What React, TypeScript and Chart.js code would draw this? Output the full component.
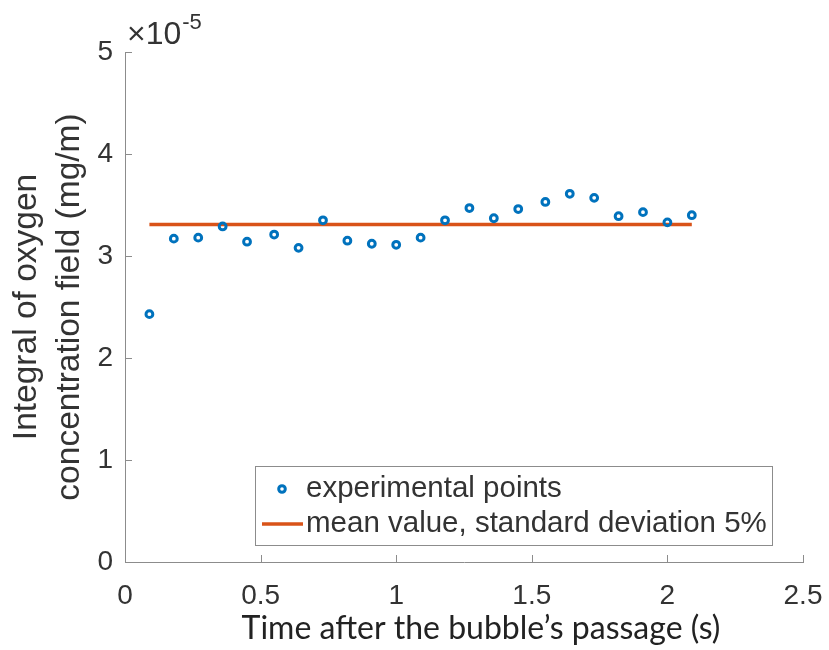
import React, { useEffect, useRef } from 'react';
import { Chart, registerables } from 'chart.js';

Chart.register(...registerables);

// ---- data (integral values in units of 1e-5 mg/m) ----
const TIME_S = [0.09, 0.18, 0.27, 0.36, 0.45, 0.55, 0.64, 0.73, 0.82, 0.91, 1.0, 1.09, 1.18, 1.27, 1.36, 1.45, 1.55, 1.64, 1.73, 1.82, 1.91, 2.0, 2.09];
const INTEGRAL_E5 = [2.43, 3.17, 3.18, 3.29, 3.14, 3.21, 3.08, 3.35, 3.15, 3.12, 3.11, 3.18, 3.35, 3.47, 3.37, 3.46, 3.53, 3.61, 3.57, 3.39, 3.43, 3.33, 3.40];
const MEAN_E5 = 3.31;
const X_TICKS = [0, 0.5, 1, 1.5, 2, 2.5];
const Y_TICKS = [0, 1, 2, 3, 4, 5];
const Y_EXPONENT = '-5';
const SERIES_LABELS = ['experimental points', 'mean value, standard deviation 5%'];
const X_TITLE = 'Time after the bubble\u2019s passage (s)';
const Y_TITLE = ['Integral of oxygen', 'concentration field (mg/m)'];

const BLUE = '#0072BD';
const ORANGE = '#D95319';
const AXIS = '#8c8c8c';
const TEXT = '#333333';
const SANS = '"Liberation Sans", Arial, Helvetica, sans-serif';

const inwardTicks = {
  id: 'inwardTicks',
  afterDraw(chart: any) {
    const { ctx, chartArea } = chart;
    const xs = chart.scales.x;
    const ys = chart.scales.y;
    ctx.save();
    ctx.strokeStyle = AXIS;
    ctx.lineWidth = 1;
    X_TICKS.forEach((v) => {
      if (v === 0) return;
      const px = Math.round(xs.getPixelForValue(v)) + 0.5;
      ctx.beginPath();
      ctx.moveTo(px, chartArea.bottom);
      ctx.lineTo(px, chartArea.bottom - 7);
      ctx.stroke();
    });
    Y_TICKS.forEach((v) => {
      if (v === 0) return;
      const py = Math.round(ys.getPixelForValue(v)) + 0.5;
      ctx.beginPath();
      ctx.moveTo(chartArea.left, py);
      ctx.lineTo(chartArea.left + 7, py);
      ctx.stroke();
    });
    ctx.restore();
  },
};

const exponentLabel = {
  id: 'exponentLabel',
  afterDraw(chart: any) {
    const { ctx, chartArea } = chart;
    ctx.save();
    ctx.fillStyle = TEXT;
    ctx.textBaseline = 'alphabetic';
    ctx.textAlign = 'left';
    ctx.font = `32px ${SANS}`;
    const x0 = chartArea.left + 2;
    const base = 44;
    ctx.fillText('\u00D710', x0, base);
    const w = ctx.measureText('\u00D710').width;
    ctx.font = `22px ${SANS}`;
    ctx.fillText(Y_EXPONENT, x0 + w + 1, base - 15);
    ctx.restore();
  },
};

const xTitle = {
  id: 'xTitle',
  afterDraw(chart: any) {
    const { ctx, chartArea } = chart;
    ctx.save();
    ctx.fillStyle = '#222222';
    ctx.font = '32px Lato, "Open Sans", sans-serif';
    ctx.textAlign = 'center';
    ctx.textBaseline = 'alphabetic';
    ctx.fillText(X_TITLE, (chartArea.left + chartArea.right) / 2 + 17, 639);
    ctx.restore();
  },
};

const boxLegend = {
  id: 'boxLegend',
  afterDraw(chart: any) {
    const { ctx } = chart;
    const left = 255, top = 466, right = 772, bottom = 545;
    ctx.save();
    ctx.fillStyle = '#ffffff';
    ctx.fillRect(left, top, right - left, bottom - top);
    ctx.strokeStyle = '#8c8c8c';
    ctx.lineWidth = 1;
    ctx.strokeRect(left + 0.5, top + 0.5, right - left, bottom - top);
    const ds = chart.data.datasets;
    const rows = [489, 524];
    ctx.font = `29.5px ${SANS}`;
    ctx.fillStyle = TEXT;
    ctx.textBaseline = 'middle';
    ctx.textAlign = 'left';
    ctx.beginPath();
    ctx.strokeStyle = ds[0].borderColor;
    ctx.lineWidth = 3;
    ctx.arc(282, rows[0], 3.3, 0, Math.PI * 2);
    ctx.stroke();
    ctx.fillText(ds[0].label, 306, rows[0]);
    ctx.beginPath();
    ctx.strokeStyle = ds[1].borderColor;
    ctx.lineWidth = 3.5;
    ctx.moveTo(262, rows[1]);
    ctx.lineTo(303, rows[1]);
    ctx.stroke();
    ctx.fillText(ds[1].label, 306, rows[1]);
    ctx.restore();
  },
};

export default function App() {
  const ref = useRef<HTMLCanvasElement | null>(null);

  useEffect(() => {
    if (!ref.current) return;
    const points = TIME_S.map((t, i) => ({ x: t, y: INTEGRAL_E5[i] }));
    const meanLine = [
      { x: TIME_S[0], y: MEAN_E5 },
      { x: TIME_S[TIME_S.length - 1], y: MEAN_E5 },
    ];
    const chart = new Chart(ref.current, {
      type: 'scatter',
      data: {
        datasets: [
          {
            label: SERIES_LABELS[0],
            data: points,
            borderColor: BLUE,
            backgroundColor: 'rgba(0,0,0,0)',
            pointRadius: 3.4,
            pointBorderWidth: 3,
            showLine: false,
            order: 0,
          },
          {
            type: 'line',
            label: SERIES_LABELS[1],
            data: meanLine,
            borderColor: ORANGE,
            backgroundColor: ORANGE,
            borderWidth: 3.5,
            pointRadius: 0,
            showLine: true,
            order: 1,
          } as any,
        ],
      },
      options: {
        responsive: false,
        animation: false,
        devicePixelRatio: 1,
        layout: { padding: { left: 0, right: 26, top: 52, bottom: 0 } },
        plugins: {
          legend: { display: false },
          tooltip: { enabled: false },
          title: { display: false },
        },
        scales: {
          x: {
            type: 'linear',
            min: 0,
            max: 2.5,
            afterBuildTicks: (s: any) => {
              s.ticks = X_TICKS.map((v) => ({ value: v }));
            },
            afterFit: (s: any) => {
              s.height = 88;
              s.paddingRight = 0;
              s.paddingLeft = 0;
            },
            grid: { display: false, drawTicks: false },
            border: { display: true, color: AXIS, width: 1 },
            ticks: {
              autoSkip: false,
              maxRotation: 0,
              padding: 17,
              color: TEXT,
              font: { family: SANS, size: 28 },
              callback: (v: any) => String(v),
            },
            title: { display: false },
          },
          y: {
            type: 'linear',
            min: 0,
            max: 5,
            afterBuildTicks: (s: any) => {
              s.ticks = Y_TICKS.map((v) => ({ value: v }));
            },
            afterFit: (s: any) => {
              s.width = 125;
            },
            grid: { display: false, drawTicks: false },
            border: { display: true, color: AXIS, width: 1 },
            ticks: {
              autoSkip: false,
              padding: 12,
              color: TEXT,
              font: { family: SANS, size: 28 },
              callback: (v: any) => String(v),
            },
            title: {
              display: true,
              text: Y_TITLE,
              color: TEXT,
              font: { family: SANS, size: 33.5, lineHeight: 1.28 },
              padding: { top: 5, bottom: 0 },
            },
          },
        },
      },
      plugins: [inwardTicks, exponentLabel, xTitle, boxLegend],
    });
    return () => chart.destroy();
  }, []);

  return (
    <div style={{ position: 'absolute', left: 0, top: 0, width: 829, height: 650, background: '#ffffff' }}>
      <canvas ref={ref} width={829} height={650} style={{ display: 'block', width: 829, height: 650 }} />
    </div>
  );
}
